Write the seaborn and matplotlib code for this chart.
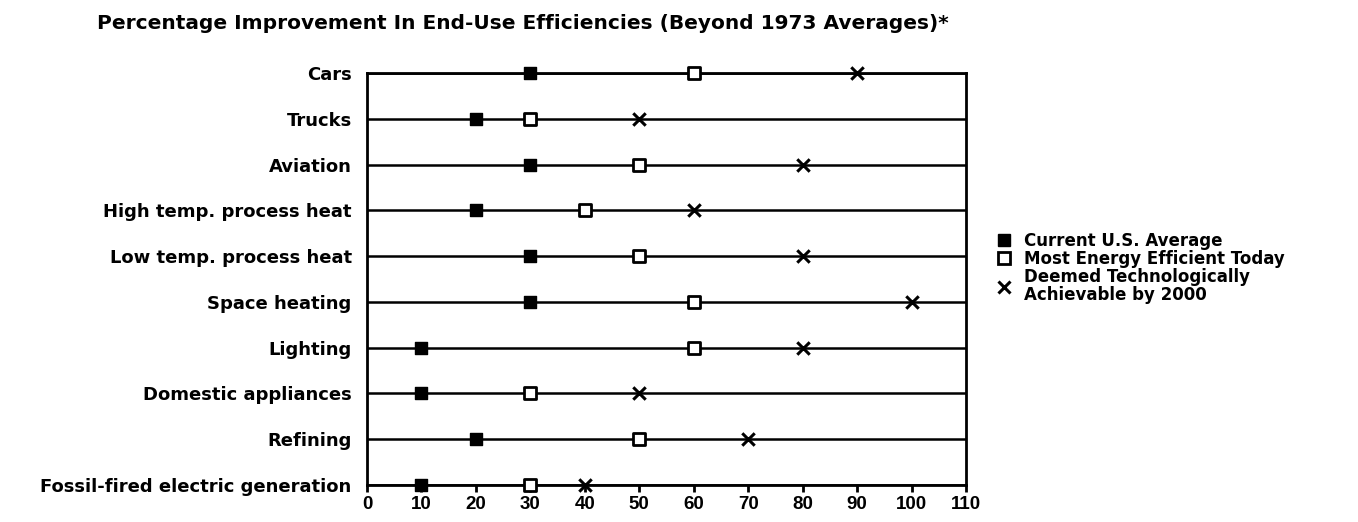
import matplotlib
matplotlib.use("Agg")
import matplotlib.pyplot as plt
from matplotlib.lines import Line2D
import seaborn as sns
import pandas as pd

categories = ["Cars", "Trucks", "Aviation", "High temp. process heat",
              "Low temp. process heat", "Space heating", "Lighting",
              "Domestic appliances", "Refining", "Fossil-fired electric generation"]
current_avg = [30, 20, 30, 20, 30, 30, 10, 10, 20, 10]
most_efficient = [60, 30, 50, 40, 50, 60, 60, 30, 50, 30]
achievable_2000 = [90, 50, 80, 60, 80, 100, 80, 50, 70, 40]
series_names = ["Current U.S. Average", "Most Energy Efficient Today",
                "Deemed Technologically\nAchievable by 2000"]
x_ticks = list(range(0, 111, 10))
title = "Percentage Improvement In End-Use Efficiencies (Beyond 1973 Averages)*"

sns.set_style("white")
plt.rcParams['font.family'] = ['DejaVu Sans']
plt.rcParams['font.weight'] = 'bold'
plt.rcParams['text.color'] = 'black'
plt.rcParams['xtick.color'] = 'black'
plt.rcParams['ytick.color'] = 'black'

rows = []
for s, vals in zip(series_names, [current_avg, most_efficient, achievable_2000]):
    for c, v in zip(categories, vals):
        rows.append({"category": c, "value": v, "series": s})
df = pd.DataFrame(rows)
df["pos"] = df["category"].map({c: i for i, c in enumerate(categories)})

fig = plt.figure(figsize=(13.58, 5.22), dpi=100)
ax = fig.add_axes([367/1358, 1-485/522, (966-367)/1358, (485-73)/522])

for i in range(len(categories)):
    ax.axhline(i, color="black", lw=1.8, zorder=1)

styles = [dict(marker="s", color="black", edgecolor="black", s=80, linewidth=1),
          dict(marker="s", color="white", edgecolor="black", s=75, linewidth=2),
          dict(marker="x", color="black", s=80, linewidth=2.2)]
for s, st in zip(series_names, styles):
    sns.scatterplot(data=df[df["series"] == s], x="value", y="pos", ax=ax,
                    zorder=3, legend=False, clip_on=False, **st)

ax.set_xlim(0, 110)
ax.set_ylim(len(categories) - 1, 0)
ax.set_xticks(x_ticks)
ax.set_xticklabels([str(t) for t in x_ticks], fontsize=13.5, fontweight="bold",
                   family="Liberation Sans")
ax.set_yticks(range(len(categories)))
ax.set_yticklabels(categories, fontsize=13, fontweight="bold")
ax.tick_params(axis="y", length=0, pad=11)
ax.tick_params(axis="x", length=5, width=2, direction="out", pad=3, bottom=True)
ax.set_xlabel("")
ax.set_ylabel("")
for sp in ax.spines.values():
    sp.set_visible(True)
    sp.set_linewidth(2)
    sp.set_color("black")

fig.text(0.385, 0.955, title, ha="center", va="center", fontsize=14.5, fontweight="bold")

handles = [Line2D([], [], marker="s", color="black", ls="none", markersize=9),
           Line2D([], [], marker="s", markerfacecolor="white", markeredgecolor="black",
                  markeredgewidth=2, ls="none", markersize=9),
           Line2D([], [], marker="x", color="black", markeredgewidth=2.2, ls="none", markersize=9)]
leg = fig.legend(handles, series_names, loc="center left", bbox_to_anchor=(0.727, 1 - 268/522),
                 frameon=False, prop={"size": 12, "weight": "bold"},
                 handletextpad=0.6, labelspacing=0.02, handlelength=1.2, borderaxespad=0)
for t in leg.get_texts():
    t.set_linespacing(1.0)

fig.savefig("out.png", dpi=100)
